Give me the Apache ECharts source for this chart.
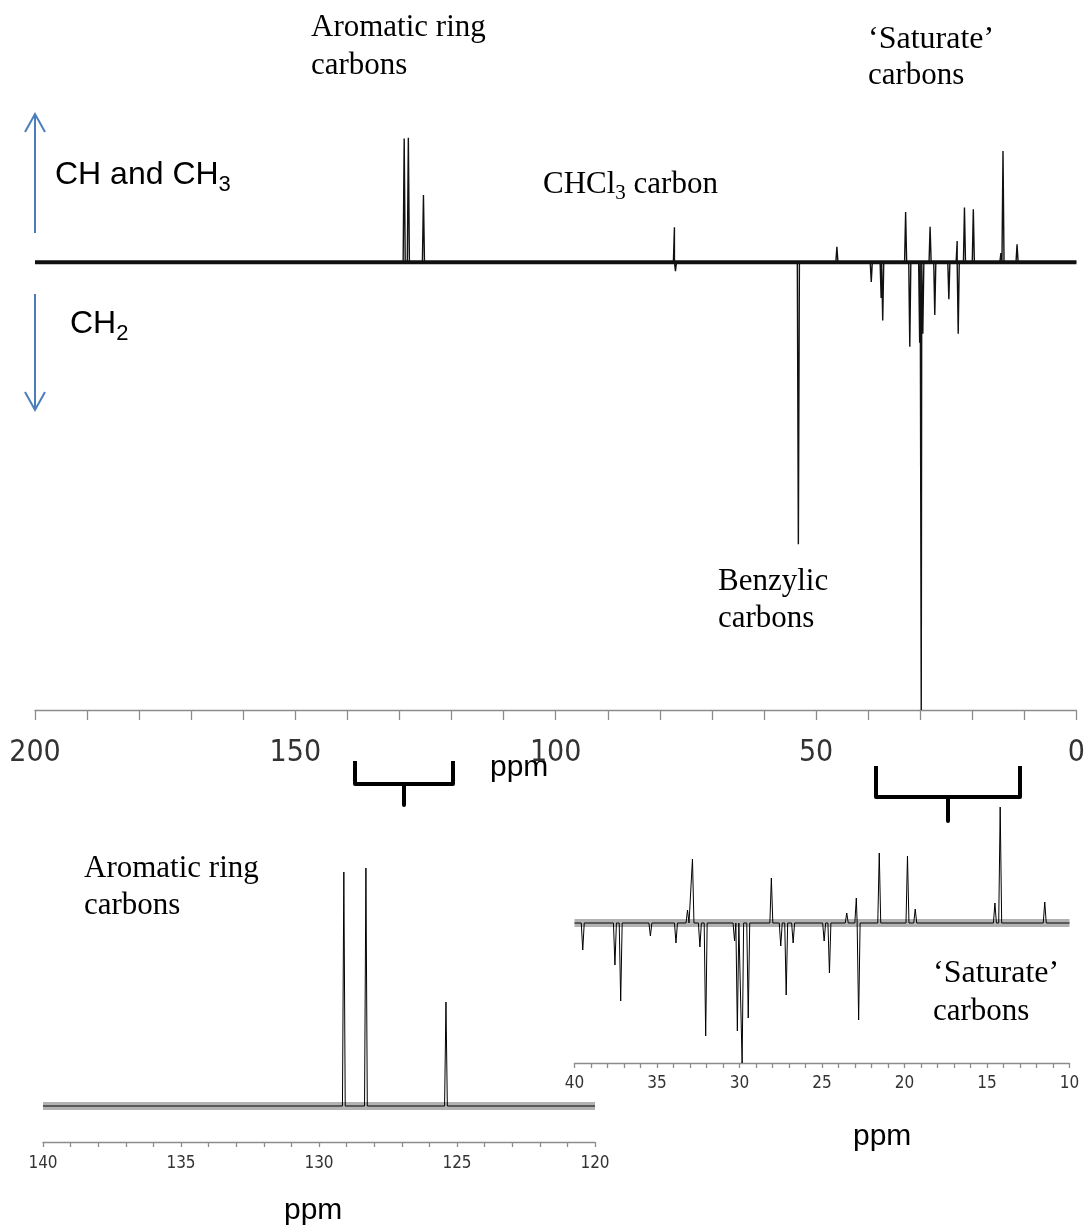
<!DOCTYPE html>
<html>
<head>
<meta charset="utf-8">
<script src="https://cdn.jsdelivr.net/npm/echarts@6/dist/echarts.min.js"></script>
<style>
html, body { margin: 0; padding: 0; background: #fff; }
#chart { width: 1088px; height: 1227px; }
</style>
</head>
<body>
<div id="chart"></div>
<script>
// DEPT-135 13C spectrum, full range on top, two expanded regions below
// peak positions in ppm, intensities (CH/CH3 up, CH2 down)
const mainPpm = [129.1, 128.3, 125.4, 77.2, 77.0, 53.4, 46.0, 39.4, 37.5, 37.2, 32.8, 32.0, 30.1, 29.8, 29.5, 28.1, 27.2, 24.5, 22.9, 22.7, 21.5, 19.8, 14.5, 14.1, 11.4];
const mainInt = [27.6, 27.8, 15.0, 7.8, -2, -63, 3.4, -4.4, -8, -13, 11.2, -18.9, -18, -100, -16, 7.9, -11.8, -8.3, 4.7, -16, 12.2, 11.8, 2, 24.8, 4.0];

const aromPpm = [129.1, 128.3, 125.4];
const aromInt = [234, 238, 104];

const satPpm = [39.5, 37.55, 37.2, 35.4, 33.85, 33.15, 32.85, 32.4, 32.05, 30.3, 30.13, 29.84, 29.47, 28.07, 27.5, 27.17, 26.75, 24.87, 24.55, 23.5, 22.92, 22.78, 21.53, 19.82, 19.35, 14.52, 14.2, 11.5];
const satInt = [-27, -42, -78, -13, -20, 13, 64, -24, -113, -18, -108, -140, -95, 45, -23, -72, -20, -18, -50, 10, 25, -97, 70, 67, 14, 20, 116, 21];

const mainTicks = [0, 50, 100, 150, 200];
const aromTicks = [120, 125, 130, 135, 140];
const satTicks = [10, 15, 20, 25, 30, 35, 40];

const SERIF = '"Liberation Serif", "Times New Roman", serif';
const SANS = '"Liberation Sans", Arial, sans-serif';
const NARROW = '"Liberation Sans Narrow", "DejaVu Sans Condensed", sans-serif';

// turn a peak list into a line trace: each peak is a narrow triangle on a zero baseline
function trace(ppm, ints, w, lo, hi) {
    const pts = [[hi, 0], [lo, 0]];
    ppm.forEach(function (p, i) {
        pts.push([p + w, 0], [p, ints[i]], [p - w, 0]);
    });
    pts.sort(function (a, b) { return b[0] - a[0]; });
    return pts;
}

function xAxisOf(grid, min, max, step, ticks, fontSize, margin, tickLen) {
    return {
        gridIndex: grid,
        type: 'value',
        min: min,
        max: max,
        inverse: true,
        interval: step,
        axisLine: { onZero: false, lineStyle: { color: '#8c8c8c', width: 1.3 } },
        axisTick: { length: tickLen, lineStyle: { color: '#8c8c8c', width: 1.3 } },
        splitLine: { show: false },
        axisLabel: {
            margin: margin,
            fontSize: fontSize,
            fontFamily: NARROW,
            color: '#333',
            showMinLabel: true,
            showMaxLabel: true,
            formatter: function (v) { return ticks.indexOf(v) >= 0 ? String(v) : ''; }
        }
    };
}

const measure = document.createElement('canvas').getContext('2d');
function textWidth(str, font) {
    measure.font = font;
    return measure.measureText(str).width;
}

function label(str, x, y, size, family) {
    return {
        type: 'text', x: x, y: y, silent: true,
        style: { text: str, font: size + 'px ' + family, fill: '#000', verticalAlign: 'middle' }
    };
}

// text with a subscript digit, e.g. CH3
function subLabel(head, sub, tail, x, y, size, subSize, family, drop) {
    const out = [label(head, x, y, size, family)];
    const w1 = textWidth(head, size + 'px ' + family);
    out.push(label(sub, x + w1, y + drop, subSize, family));
    if (tail) {
        const w2 = textWidth(sub, subSize + 'px ' + family);
        out.push(label(tail, x + w1 + w2, y, size, family));
    }
    return out;
}

const chart = echarts.init(document.getElementById('chart'), null, { renderer: 'canvas' });

const blue = '#4A7EBB';
const graphics = [
    // direction arrows
    { type: 'line', shape: { x1: 35, y1: 233, x2: 35, y2: 114 }, style: { stroke: blue, lineWidth: 2 } },
    { type: 'polyline', shape: { points: [[25, 132], [35, 114], [45, 132]] }, style: { stroke: blue, lineWidth: 2, fill: null } },
    { type: 'line', shape: { x1: 35, y1: 294, x2: 35, y2: 410 }, style: { stroke: blue, lineWidth: 2 } },
    { type: 'polyline', shape: { points: [[25, 392], [35, 410], [45, 392]] }, style: { stroke: blue, lineWidth: 2, fill: null } },
    // braces under the main axis
    { type: 'polyline', shape: { points: [[355, 761], [355, 784], [404, 784], [404, 805], [404, 784], [453, 784], [453, 761]] },
      style: { stroke: '#000', lineWidth: 4, fill: null, lineJoin: 'round' } },
    { type: 'polyline', shape: { points: [[876, 766], [876, 797], [948, 797], [948, 821], [948, 797], [1020, 797], [1020, 766]] },
      style: { stroke: '#000', lineWidth: 4, fill: null, lineJoin: 'round' } },

    label('Aromatic ring', 311, 28, 31, SERIF),
    label('carbons', 311, 66, 31, SERIF),
    label('\u2018Saturate\u2019', 868, 40, 32, SERIF),
    label('carbons', 868, 76, 31, SERIF),
    label('Benzylic', 718, 582, 31, SERIF),
    label('carbons', 718, 619, 31, SERIF),
    label('Aromatic ring', 84, 869, 31, SERIF),
    label('carbons', 84, 906, 31, SERIF),
    label('\u2018Saturate\u2019', 933, 974, 32, SERIF),
    label('carbons', 933, 1012, 31, SERIF),
    label('ppm', 490, 768, 30, SANS),
    label('ppm', 853, 1137, 30, SANS),
    label('ppm', 284, 1211, 30, SANS)
].concat(
    subLabel('CH and CH', '3', null, 55, 175, 32, 22, SANS, 10),
    subLabel('CH', '2', null, 70, 324, 32, 22, SANS, 10),
    subLabel('CHCl', '3', ' carbon', 543, 185, 31, 21, SERIF, 8)
);

const option = {
    animation: false,
    backgroundColor: '#fff',
    grid: [
        { left: 35, right: 11, top: 83, bottom: 517 },
        { left: 43, right: 493, top: 860, bottom: 85 },
        { left: 574.5, right: 18.5, top: 803, bottom: 164 }
    ],
    xAxis: [
        xAxisOf(0, 0, 200, 10, mainTicks, 30, 28, 10),
        xAxisOf(1, 120, 140, 1, aromTicks, 17, 13, 5),
        xAxisOf(2, 10, 40, 1, satTicks, 17, 12, 5)
    ],
    yAxis: [
        { gridIndex: 0, type: 'value', min: -100, max: 40, show: false },
        { gridIndex: 1, type: 'value', min: -36, max: 246, show: false },
        { gridIndex: 2, type: 'value', min: -140, max: 120, show: false }
    ],
    series: [
        { type: 'line', xAxisIndex: 0, yAxisIndex: 0, data: [[200, 0], [0, 0]], showSymbol: false, silent: true,
          lineStyle: { color: '#111', width: 4 } },
        { type: 'line', xAxisIndex: 0, yAxisIndex: 0, data: trace(mainPpm, mainInt, 0.2, 0, 200), showSymbol: false, silent: true,
          lineStyle: { color: '#111', width: 1.4 } },
        { type: 'line', xAxisIndex: 1, yAxisIndex: 1, data: [[140, 0], [120, 0]], showSymbol: false, silent: true,
          lineStyle: { color: 'rgba(0,0,0,0.3)', width: 8 } },
        { type: 'line', xAxisIndex: 1, yAxisIndex: 1, data: trace(aromPpm, aromInt, 0.05, 120, 140), showSymbol: false, silent: true,
          lineStyle: { color: '#000', width: 1 } },
        { type: 'line', xAxisIndex: 2, yAxisIndex: 2, data: [[40, 0], [10, 0]], showSymbol: false, silent: true,
          lineStyle: { color: 'rgba(0,0,0,0.3)', width: 8 } },
        { type: 'line', xAxisIndex: 2, yAxisIndex: 2, data: trace(satPpm, satInt, 0.09, 10, 40), showSymbol: false, silent: true,
          lineStyle: { color: '#000', width: 1 } }
    ],
    graphic: graphics
};

chart.setOption(option);
</script>
</body>
</html>
